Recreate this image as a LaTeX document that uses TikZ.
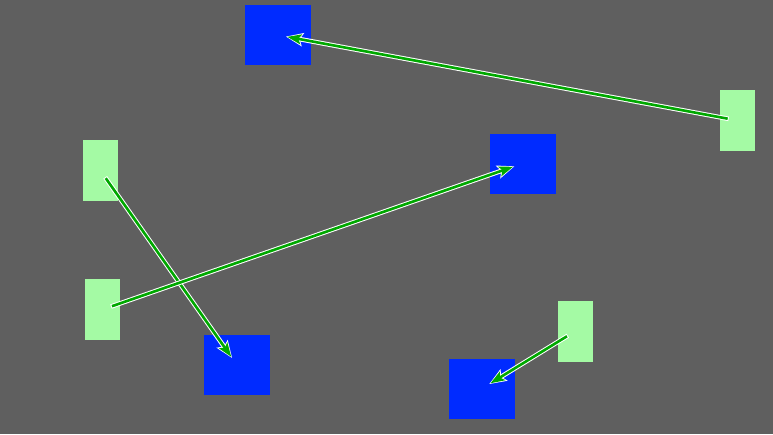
\documentclass[tikz,border=0pt]{standalone}
\usetikzlibrary{arrows.meta}
\definecolor{canvas}{RGB}{95,95,95}
\definecolor{boxblue}{RGB}{0,43,255}
\definecolor{boxgreen}{RGB}{164,250,164}
\definecolor{linkgreen}{RGB}{0,168,0}
\begin{document}
\begin{tikzpicture}[
    x=1pt, y=-1pt,
    target/.style={
      rectangle,
      fill=boxblue,
      minimum width=66pt,
      minimum height=60pt,
      inner sep=0pt, outer sep=0pt
    },
    source/.style={
      rectangle,
      fill=boxgreen,
      minimum width=35pt,
      minimum height=61pt,
      inner sep=0pt, outer sep=0pt
    },
    link/.style={
      draw=linkgreen,
      line width=2.6pt,
      shorten <=10pt, shorten >=10pt,
      -{Stealth[length=14pt,width=10pt,inset=3pt]},
      preaction={
        draw=white,
        line width=4.6pt,
        shorten <=9pt, shorten >=8.5pt,
        -{Stealth[length=17pt,width=13pt,inset=3pt]}
      }
    }
  ]

  \fill[canvas] (0,0) rectangle (773,434);

  \node[target] (t1) at (277.5, 35) {};
  \node[target] (t2) at (522.5, 163.5) {};
  \node[target] (t3) at (237, 365) {};
  \node[target] (t4) at (482, 388.5) {};

  \node[source] (s1) at (100, 170) {};
  \node[source] (s2) at (102.5, 309.5) {};
  \node[source] (s3) at (575.5, 331) {};
  \node[source] (s4) at (737.5, 120.5) {};

  \draw[link] (s4.center) -- (t1.center);
  \draw[link] (s1.center) -- (t3.center);
  \draw[link] (s2.center) -- (t2.center);
  \draw[link] (s3.center) -- (t4.center);

\end{tikzpicture}
\end{document}
